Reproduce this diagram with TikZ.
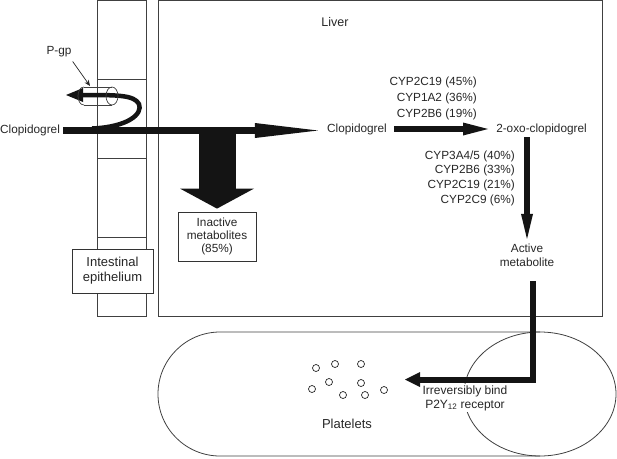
\documentclass[tikz,border=0pt]{standalone}
\usepackage{fontspec}
\setmainfont{Liberation Sans}
\usetikzlibrary{arrows.meta,calc}
\begin{document}
\begin{tikzpicture}[x=1pt,y=-1pt,
  txt/.style={inner sep=0pt, text=black!85, font=\fontsize{11.8}{14}\selectfont},
  thinline/.style={draw=black!75, line width=0.8pt},
  boxed/.style={txt, draw=black!80, line width=0.8pt, fill=white, align=center},
  mainbar/.style={draw=black!92, line width=7pt, -{Triangle[length=63pt,width=15pt,line width=0pt]}},
  downbig/.style={draw=black!92, line width=37pt, -{Triangle[length=20pt,width=74pt,line width=0pt]}},
  midbar/.style={draw=black!92, line width=6pt, -{Triangle[length=25pt,width=13pt,line width=0pt]}},
  vbar/.style={draw=black!92, line width=6pt, -{Triangle[length=25pt,width=12pt,line width=0pt]}},
  lbar/.style={draw=black!92, line width=6pt, line join=miter, -{Triangle[length=15pt,width=15pt,line width=0pt]}},
  pgpcurve/.style={draw=black!92, line width=4.5pt, -{Triangle[length=17pt,width=14pt,line width=0pt]}},
  pointer/.style={draw=black!85, line width=0.7pt, -{Stealth[length=6pt,width=5pt]}},
  granule/.style={draw=black!85, line width=0.7pt, fill=white}
]
\useasboundingbox (0,0) rectangle (617,458);

% intestinal column
\draw[thinline] (97,0.5) rectangle (146,316);
\draw[thinline] (97,79) -- (146,79);
\draw[thinline] (97,158) -- (146,158);
\draw[thinline] (97,237) -- (146,237);

% liver box
\draw[thinline] (158,0.5) rectangle (602,316);

% platelet
\draw[thinline] (220,332) -- (540,332) arc[start angle=90, end angle=-90, x radius=76pt, y radius=62pt]
  -- (220,456) arc[start angle=270, end angle=90, radius=62pt] -- cycle;
\draw[thinline] (540,332) arc[start angle=90, end angle=270, x radius=76pt, y radius=62pt];
\foreach \p/\q in {316/368, 335/364, 361/364, 329/382, 361/383, 312/389, 343/395, 365/395, 384/390}
  \draw[granule] (\p,\q) circle [radius=3.5pt];

% text nodes
\node[txt, font=\fontsize{12.5}{14}\selectfont] (liver) at (335,22) {Liver};
\node[txt] (pgp) at (59,52) {P-gp};
\node[txt, anchor=west] (clopL) at (0,130.5) {Clopidogrel};
\node[txt] (clopR) at (357,129) {Clopidogrel};
\node[txt] (oxo) at (541.5,129) {2-oxo-clopidogrel};
\node[txt, anchor=east, align=right, font=\fontsize{11.8}{16}\selectfont] (cyp1) at (477,98)
  {CYP2C19 (45\%)\\CYP1A2 (36\%)\\CYP2B6 (19\%)};
\node[txt, anchor=east, align=right, font=\fontsize{11.8}{14.7}\selectfont] (cyp2) at (515,178)
  {CYP3A4/5 (40\%)\\CYP2B6 (33\%)\\CYP2C19 (21\%)\\CYP2C9 (6\%)};
\node[txt, align=center] (active) at (527,255) {Active\\metabolite};
\node[boxed, minimum width=78pt, minimum height=49pt, font=\fontsize{11.8}{13}\selectfont] (inactive) at (217,236.5)
  {Inactive\\metabolites\\(85\%)};
\node[boxed, minimum width=81pt, minimum height=44pt, font=\fontsize{13}{15}\selectfont] (intest) at (112.5,271)
  {Intestinal\\epithelium};
\node[txt, font=\fontsize{13}{15}\selectfont] (platelets) at (347,424) {Platelets};
\node[txt, align=center, fill=white, inner sep=1.5pt, font=\fontsize{12}{14}\selectfont] (irrev) at (465,398)
  {Irreversibly bind\\P2Y\textsubscript{12} receptor};

% connectors
\coordinate (pgpstart) at (92,128.5);
\coordinate (pgptip) at (66,95);
\coordinate (ltip) at (405,379.5);

\draw[pgpcurve] (pgpstart) .. controls (128,127) and (143,114) .. (139,104)
  .. controls (134,95) and (118,95) .. (pgptip);

% P-gp cylinder
\draw[thinline, line width=0.7pt] (84,87) -- (112,87) (84,105) -- (112,105);
\draw[thinline, line width=0.7pt] (84,87) .. controls (76,87) and (76,105) .. (84,105);
\draw[thinline, line width=0.7pt] (112,96) ellipse [x radius=6pt, y radius=9pt];
\draw[pointer] ($(pgp.south east)+(1,4)$) -- (90,86);

\draw[mainbar] ($(clopL.east)+(3,0)$) -- ($(clopR.west |- clopL.east)+(-9,0)$);
\draw[downbig] (inactive.north |- clopL.east) -- ($(inactive.north)+(0,-3)$);
\draw[midbar] ($(clopR.east)+(7,0)$) -- ($(oxo.west)+(-8,0)$);
\draw[vbar] ($(active.north |- oxo.south)+(0,2.5)$) -- ($(active.north)+(0,-4.5)$);
\draw[lbar] ($(active.south)+(6,14.5)$) |- (ltip);
\end{tikzpicture}
\end{document}
